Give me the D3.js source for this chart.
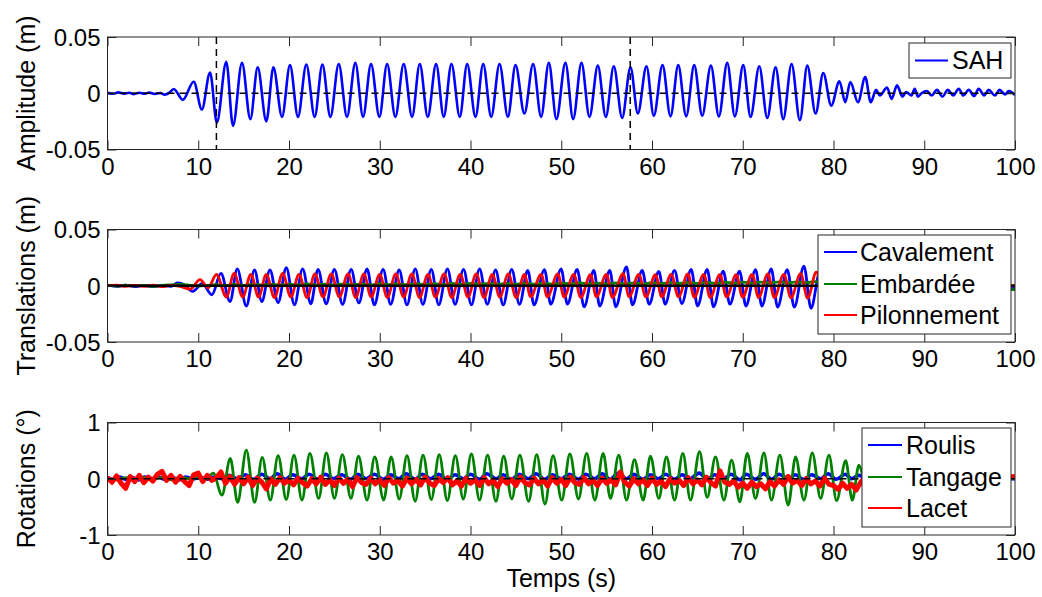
<!DOCTYPE html>
<html><head><meta charset="utf-8">
<script src="https://cdn.jsdelivr.net/npm/d3@7"></script>
<style>
body{margin:0;background:#fff}
svg{display:block}
text{font-family:"Liberation Sans",Arial,Helvetica,sans-serif;fill:#000}
</style>
</head><body>
<svg id="chart" width="1042" height="597"></svg>
<script>
// ---------------- DATA ----------------
const xTickValues = [0,10,20,30,40,50,60,70,80,90,100];
const xTickLabels = ["0","10","20","30","40","50","60","70","80","90","100"];
const transTickValues = [-0.05,0,0.05];
const transTickLabels = ["-0.05","0","0.05"];
const rotTickValues = [-1,0,1];
const rotTickLabels = ["-1","0","1"];
const markerTimes = [12,57.6];

const panelLabels = ["Amplitude (m)","Translations (m)","Rotations (°)"];
const xLabel = "Temps (s)";
const sahNames = ["SAH"];
const transNames = ["Cavalement","Embardée","Pilonnement"];
const rotNames = ["Roulis","Tangage","Lacet"];

// SAH: successive extrema [t, value]
const sah = [[0,0.0005],[0.6,-0.0005],[1.2,0.0008],[1.8,-0.0003],[2.4,0.0004],[2.9,-0.0008],[3.5,0.0005],[4.1,-0.0004],[4.6,0.0006],[5.2,-0.0006],[5.8,0.0002],[6.3,-0.0012],[6.8,0.0003],[7.3,0.0038],[8.3,-0.0058],[9.5,0.0102],[10.4,-0.0145],[11.3,0.0185],[12.05,-0.026],[13.09,0.028],[13.83,-0.029],[14.82,0.027],[15.74,-0.023],[16.55,0.023],[17.5,-0.025],[18.28,0.023],[19.23,-0.021],[20.11,0.025],[20.99,-0.021],[21.91,0.0255],[22.83,-0.021],[23.68,0.0255],[24.56,-0.021],[25.48,0.026],[26.39,-0.021],[27.31,0.027],[28.16,-0.021],[29.04,0.026],[29.96,-0.021],[30.81,0.026],[31.72,-0.021],[32.64,0.026],[33.56,-0.021],[34.41,0.026],[35.29,-0.021],[36.21,0.026],[37.05,-0.021],[37.9,0.026],[38.82,-0.021],[39.63,0.026],[40.55,-0.021],[41.4,0.026],[42.28,-0.021],[43.2,0.026],[44.12,-0.021],[44.96,0.025],[45.94,-0.018],[46.9,0.026],[47.78,-0.021],[48.63,0.027],[49.47,-0.023],[50.46,0.027],[51.31,-0.023],[52.23,0.027],[53.11,-0.021],[54.03,0.0246],[54.91,-0.021],[55.79,0.024],[56.71,-0.022],[57.63,0.023],[58.44,-0.018],[59.39,0.024],[60.2,-0.02],[61.16,0.025],[62.04,-0.0206],[62.89,0.025],[63.77,-0.0206],[64.65,0.025],[65.53,-0.02],[66.49,0.0246],[67.37,-0.0206],[68.29,0.027],[69.13,-0.0206],[70.05,0.025],[70.86,-0.021],[71.82,0.024],[72.7,-0.022],[73.62,0.023],[74.46,-0.023],[75.38,0.026],[76.3,-0.024],[77.11,0.0246],[78.03,-0.018],[78.87,0.018],[79.75,-0.011],[80.65,0.0107],[81.3,-0.008],[81.85,0.010],[82.7,-0.008],[83.5,0.0145],[84.1,-0.008],[84.7,0.003],[85.1,-0.002],[85.9,0.005],[86.4,-0.005],[87.0,0.007],[87.6,-0.003],[88.0,0.001],[88.6,-0.002],[88.95,0.004],[89.3,-0.003],[89.7,0.0],[90.3,0.002],[90.8,-0.002],[91.4,0.003],[92.0,-0.003],[92.6,0.003],[93.2,-0.002],[93.8,0.004],[94.3,-0.002],[94.9,0.003],[95.5,-0.0025],[96.0,0.004],[96.6,-0.002],[97.1,0.003],[97.8,-0.002],[98.3,0.003],[98.9,-0.001],[99.3,0.002],[100,-0.0015]];

// Cavalement (surge) extrema
const cavalement = [[0,0.0005],[1,-0.0005],[2,0.0005],[3,-0.0008],[4,0.0003],[5,-0.0008],[6,0.0002],[7,-0.0005],[7.7,0.0025],[8.3,0.0015],[9.4,-0.005],[10.45,0.002],[11.5,-0.008],[12.5,0.011],[13.5,-0.014],[14.3,0.015],[15.3,-0.018],[16.2,0.014],[17.0,-0.014],[17.9,0.014],[18.8,-0.015],[19.7,0.016],[20.6,-0.017],[21.5,0.015],[22.4,-0.016],[23.2,0.0145],[24.1,-0.016],[25.0,0.0145],[25.9,-0.0165],[26.85,0.0145],[27.7,-0.0153],[28.6,0.015],[29.4,-0.017],[30.37,0.0145],[31.2,-0.0165],[32.14,0.014],[33.0,-0.017],[33.91,0.015],[34.75,-0.0165],[35.68,0.0145],[36.5,-0.017],[37.46,0.015],[38.3,-0.0165],[39.23,0.0145],[40.1,-0.017],[41.0,0.015],[41.85,-0.0165],[42.77,0.014],[43.6,-0.017],[44.54,0.0145],[45.4,-0.0165],[46.31,0.0137],[47.0,-0.017],[48.15,0.0143],[48.84,-0.0164],[49.99,0.015],[50.68,-0.0164],[51.75,0.0145],[52.52,-0.0187],[53.59,0.0137],[54.24,-0.018],[55.35,0.0137],[56.0,-0.0187],[57.19,0.0167],[57.85,-0.017],[58.92,0.0137],[59.69,-0.0164],[60.75,0.0128],[61.45,-0.0164],[62.48,0.0137],[63.29,-0.0158],[64.32,0.0145],[65.02,-0.018],[66.08,0.0145],[66.78,-0.0187],[67.85,0.013],[68.58,-0.0164],[69.65,0.013],[70.35,-0.018],[71.41,0.0143],[72.11,-0.018],[73.14,0.015],[73.84,-0.019],[74.9,0.0143],[75.68,-0.019],[76.74,0.0175],[77.52,-0.02],[78.5,0.012],[79.4,-0.011],[80.3,0.007],[81.2,-0.006],[82.1,0.003],[83,-0.003],[85,0.001],[90,-0.001],[95,-0.0015],[100,-0.0016]];

// Embardée (sway), one value per second from t = 0
const embardee = [0.0003,-0.0004,0.0005,-0.0002,0.0004,-0.0006,0.0003,0.0008,0.0012,0.0006,
-0.0002,0.0004,0.001,0.0002,0.0012,0.0004,0.0013,0.0005,0.0014,0.0006,
0.0015,0.0007,0.0016,0.0008,0.0015,0.0007,0.0017,0.0009,0.0016,0.0008,
0.0018,0.001,0.0017,0.0009,0.0019,0.0011,0.0018,0.001,0.002,0.0012,
0.0021,0.0013,0.0022,0.0014,0.0021,0.0013,0.0023,0.0015,0.0022,0.0014,
0.0024,0.0016,0.0025,0.0017,0.0024,0.0016,0.0026,0.0018,0.0025,0.0017,
0.0027,0.0019,0.0028,0.002,0.0029,0.0021,0.003,0.0022,0.0031,0.0023,
0.0032,0.0024,0.0033,0.0025,0.0034,0.0026,0.0035,0.0027,0.0036,0.002,
0.001,0.0,-0.001,-0.0015,-0.002,-0.002,-0.0025,-0.0025,-0.003,-0.003,
-0.003,-0.0032,-0.0033,-0.0033,-0.0034,-0.0034,-0.0035,-0.0035,-0.0035,-0.0035,
-0.0035];

// Pilonnement (heave) extrema
const pilonnement = [[0,0],[1,0.0005],[2,-0.0005],[3,0.0003],[4,-0.0005],[5,0.0005],[6,-0.0008],[7,0.0003],[8,-0.0005],[9.1,-0.003],[10.2,0.0055],[11.1,-0.0018],[12.0,0.01],[13.1,-0.01],[13.95,0.011],[14.9,-0.01],[15.8,0.01],[16.65,-0.01],[17.5,0.01],[18.4,-0.0105],[19.3,0.011],[20.2,-0.01],[21.1,0.01],[22.0,-0.0105],[22.85,0.0105],[23.75,-0.01],[24.65,0.0105],[25.55,-0.01],[26.5,0.0105],[27.35,-0.0105],[28.25,0.0105],[29.05,-0.01],[30.0,0.01],[30.83,-0.0105],[31.77,0.0105],[32.63,-0.01],[33.54,0.0105],[34.38,-0.0105],[35.31,0.01],[36.13,-0.01],[37.09,0.0105],[37.93,-0.0105],[38.86,0.01],[39.73,-0.01],[40.63,0.0105],[41.48,-0.0105],[42.4,0.01],[43.23,-0.01],[44.17,0.0105],[45.03,-0.0105],[45.94,0.01],[46.63,-0.0099],[47.78,0.0102],[48.47,-0.0099],[49.62,0.0105],[50.31,-0.01],[51.38,0.0102],[52.15,-0.0105],[53.22,0.0098],[53.87,-0.0099],[54.98,0.0102],[55.63,-0.0105],[56.82,0.0108],[57.48,-0.0099],[58.55,0.0102],[59.32,-0.01],[60.38,0.0098],[61.08,-0.0099],[62.11,0.0102],[62.92,-0.0099],[63.95,0.0105],[64.65,-0.0102],[65.71,0.0102],[66.41,-0.0105],[67.48,0.0098],[68.21,-0.0099],[69.28,0.0098],[69.98,-0.0102],[71.04,0.0102],[71.74,-0.0105],[72.77,0.0105],[73.47,-0.0105],[74.53,0.0102],[75.31,-0.0108],[76.37,0.0108],[77.15,-0.011],[78.1,0.012],[79.0,-0.008],[80,0.005],[81,-0.003],[82,0.001],[85,0],[90,0.0005],[100,0]];

// Roulis (roll) extrema
const roulis = [[0,0.02],[0.6,-0.02],[1.3,0.03],[2,-0.01],[2.7,0.02],[3.4,-0.02],[4.1,0.03],[4.9,0.0],[5.6,0.03],[6.3,-0.01],[7.1,0.02],[7.9,-0.02],[8.6,0.03],[9.4,0.0],[10.2,0.02],[11.0,-0.01],[11.8,0.03],[12.6,0.0],[13.4,0.06],[14.3,0.0],[15.2,0.07],[16.1,-0.01],[17.0,0.08],[17.9,0.0],[18.7,0.09],[19.6,-0.01],[20.4,0.07],[21.4,0.0],[22.2,0.08],[23.2,-0.01],[24.0,0.08],[24.9,0.0],[25.8,0.07],[26.8,-0.01],[27.6,0.08],[28.5,0.0],[29.4,0.08],[30.4,-0.01],[31.2,0.07],[32.1,0.0],[32.9,0.09],[33.9,-0.01],[34.7,0.08],[35.6,0.0],[36.5,0.08],[37.4,-0.01],[38.3,0.07],[39.2,0.0],[40.0,0.08],[41.0,-0.01],[41.8,0.09],[42.8,0.0],[43.6,0.07],[44.5,-0.01],[45.4,0.08],[46.4,0.0],[47.2,0.09],[48.2,-0.01],[49.0,0.07],[50.0,0.0],[50.9,0.08],[51.9,-0.01],[52.7,0.08],[53.7,0.0],[54.5,0.09],[55.4,-0.01],[56.3,0.1],[57.2,0.0],[58.0,0.08],[59.0,-0.01],[59.8,0.07],[60.7,0.0],[61.5,0.08],[62.5,-0.01],[63.3,0.07],[64.2,0.0],[65.2,0.1],[66.1,-0.01],[66.9,0.07],[67.9,0.0],[68.7,0.08],[69.7,-0.02],[70.4,0.08],[71.4,-0.01],[72.3,0.09],[73.2,-0.01],[74.0,0.08],[75.0,0.0],[75.8,0.07],[76.7,-0.01],[77.6,0.07],[78.6,0.0],[79.4,0.09],[80.3,-0.01],[81.3,0.08],[82.0,0.0],[82.8,0.06],[84,0.0],[90,0.01],[100,0.0]];

// Tangage (pitch) extrema
const tangage = [[0,0.01],[1,-0.02],[2,0.02],[3,-0.01],[4,0.03],[5,0.0],[6,0.02],[7,-0.02],[8,0.03],[9,0.0],[10,0.02],[10.8,-0.02],[11.65,0.1],[12.61,-0.29],[13.53,0.36],[14.34,-0.42],[15.3,0.51],[16.21,-0.42],[17.05,0.38],[17.94,-0.38],[18.8,0.41],[19.7,-0.37],[20.55,0.42],[21.43,-0.38],[22.3,0.45],[23.27,-0.35],[24.12,0.46],[25.0,-0.35],[25.88,0.43],[26.83,-0.35],[27.66,0.4],[28.6,-0.38],[29.45,0.39],[30.43,-0.38],[31.25,0.39],[32.15,-0.36],[33.0,0.41],[33.9,-0.4],[34.77,0.42],[35.68,-0.37],[36.55,0.43],[37.45,-0.39],[38.33,0.41],[39.2,-0.36],[40.1,0.44],[41.0,-0.38],[41.88,0.42],[42.8,-0.4],[43.66,0.4],[44.55,-0.36],[45.44,0.42],[46.4,-0.4],[47.3,0.43],[48.2,-0.45],[49.1,0.41],[50.05,-0.38],[50.95,0.44],[51.9,-0.36],[52.8,0.45],[53.7,-0.38],[54.62,0.45],[55.42,-0.35],[56.34,0.42],[57.19,-0.38],[58.07,0.34],[59.03,-0.38],[59.83,0.4],[60.75,-0.35],[61.6,0.39],[62.48,-0.38],[63.4,0.45],[64.24,-0.38],[65.24,0.48],[66.08,-0.33],[67.0,0.39],[67.92,-0.38],[68.77,0.33],[69.68,-0.41],[70.49,0.45],[71.41,-0.35],[72.33,0.46],[73.17,-0.38],[74.09,0.42],[75.01,-0.47],[75.82,0.39],[76.74,-0.38],[77.66,0.46],[78.58,-0.35],[79.5,0.42],[80.34,-0.39],[81.34,0.32],[82.07,-0.38],[82.8,0.24],[83.6,-0.1],[85,0.03],[90,-0.01],[95,0.02],[100,0.0]];

// Lacet (yaw), one value every 0.5 s from t = 0
const lacet = [0.02,-0.06,0.05,-0.08,-0.17,0.04,-0.05,0.06,-0.07,0.03,
-0.04,0.08,0.13,-0.03,0.06,-0.06,0.04,-0.05,-0.12,0.07,
0.1,-0.05,0.06,-0.03,0.02,0.12,-0.08,0.04,-0.1,0.02,
-0.09,0.03,-0.12,0.01,-0.06,-0.18,0.0,-0.1,0.02,-0.08,
-0.02,-0.11,0.01,-0.07,-0.13,0.0,-0.09,0.03,-0.1,-0.02,
-0.12,0.01,-0.08,-0.01,-0.14,0.02,-0.07,-0.1,0.01,-0.09,
-0.02,-0.12,0.02,-0.08,-0.03,-0.13,0.01,-0.09,-0.01,-0.11,
0.03,-0.08,-0.12,0.0,-0.07,0.02,-0.11,-0.04,-0.13,0.01,
-0.08,-0.02,-0.12,0.02,-0.09,-0.03,-0.14,0.0,-0.08,-0.01,
-0.12,0.03,-0.07,-0.11,0.01,-0.09,-0.02,-0.13,0.02,-0.08,
-0.01,-0.12,0.03,-0.07,-0.1,0.02,-0.09,-0.03,-0.12,0.01,
-0.08,-0.02,-0.11,0.12,-0.06,-0.13,0.0,-0.09,-0.02,-0.12,
0.01,-0.1,-0.04,-0.14,0.0,-0.08,-0.03,-0.12,0.02,-0.09,
-0.02,-0.11,0.03,-0.07,-0.13,0.14,-0.06,-0.1,-0.04,-0.15,
-0.08,-0.17,-0.06,-0.14,-0.09,-0.18,-0.05,-0.13,-0.02,-0.1,
0.04,-0.08,-0.03,-0.12,0.0,-0.09,-0.04,-0.13,0.01,-0.1,
-0.12,-0.19,-0.08,-0.17,-0.1,-0.2,-0.06,0.02,-0.03,0.01,
-0.02,0.02,-0.01,0.03,-0.02,0.01,0.0,0.02,-0.01,0.02,
0.0,0.03,-0.01,0.02,0.01,0.03,-0.01,0.02,0.0,0.03,
0.01,0.03,0.0,0.04,0.01,0.03,0.02,0.05,0.01,0.03,
0.04];

// ---------------- LAYOUT ----------------
const L = 107.5, R = 1015, PH = 112.5;
const tops = [37, 229.5, 422.5];
const blue = "#0000ff", green = "#008000", red = "#ff0000";
const axisColor = "#262626";

const svg = d3.select("#chart");
const x = d3.scaleLinear().domain([0,100]).range([L,R]);

function panel(i, domain) {
  const top = tops[i], bottom = top + PH;
  const y = d3.scaleLinear().domain(domain).range([bottom, top]);
  const g = svg.append("g");
  const clipId = "clip" + i;
  svg.append("clipPath").attr("id", clipId).append("rect")
    .attr("x", L).attr("y", top).attr("width", R - L).attr("height", PH);
  const plot = g.append("g").attr("clip-path", `url(#${clipId})`);
  return {top, bottom, y, g, plot};
}

function drawAxes(p, yTickVals, yTickLabs) {
  const {g, top, bottom, y} = p;
  const ax = g.append("g").attr("transform", `translate(0,${bottom})`)
    .call(d3.axisBottom(x).tickValues(xTickValues).tickFormat((d, i) => xTickLabels[i]).tickSize(-9).tickSizeOuter(0));
  ax.selectAll("text").attr("y", 17).attr("dy", "0.35em");
  g.append("g").attr("transform", `translate(0,${top})`)
    .call(d3.axisTop(x).tickValues(xTickValues).tickFormat("").tickSize(-9).tickSizeOuter(0));
  const ay = g.append("g").attr("transform", `translate(${L},0)`)
    .call(d3.axisLeft(y).tickValues(yTickVals).tickFormat((d,i)=>yTickLabs[i]).tickSize(-9).tickSizeOuter(0));
  ay.selectAll("text").attr("x", -7).attr("dy", "0.35em");
  g.append("g").attr("transform", `translate(${R},0)`)
    .call(d3.axisRight(y).tickValues(yTickVals).tickFormat("").tickSize(-9).tickSizeOuter(0));
  g.selectAll(".domain").remove();
  g.selectAll(".tick line").attr("stroke", axisColor).attr("stroke-width", 1);
  g.selectAll(".tick text").style("font-size", "24px").attr("fill", "#000")
    .style("font-family", '"Liberation Sans", Arial, sans-serif');
  g.append("rect").attr("x", L).attr("y", top).attr("width", R - L).attr("height", PH)
    .attr("fill", "none").attr("stroke", axisColor).attr("stroke-width", 1);
}

function pairLine(p, data, color, width, curve) {
  const line = d3.line().x(d => x(d[0])).y(d => p.y(d[1])).curve(curve || d3.curveMonotoneX);
  p.plot.append("path").datum(data).attr("d", line)
    .attr("fill", "none").attr("stroke", color).attr("stroke-width", width)
    .attr("stroke-linejoin", "round");
}
function stepLine(p, values, step, color, width, curve) {
  const line = d3.line().x((d, i) => x(i * step)).y(d => p.y(d)).curve(curve || d3.curveLinear);
  p.plot.append("path").datum(values).attr("d", line)
    .attr("fill", "none").attr("stroke", color).attr("stroke-width", width)
    .attr("stroke-linejoin", "round");
}
function zeroLine(p, dashed, width) {
  const l = p.plot.append("line").attr("x1", x(0)).attr("x2", x(100))
    .attr("y1", p.y(0)).attr("y2", p.y(0))
    .attr("stroke", "#000").attr("stroke-width", width);
  if (dashed) l.attr("stroke-dasharray", "7,5");
}
function legend(box, names, colors, rowYs, lineX0, lineX1, textX) {
  const lg = svg.append("g");
  lg.append("rect").attr("x", box[0]).attr("y", box[1]).attr("width", box[2]).attr("height", box[3])
    .attr("fill", "#fff").attr("stroke", axisColor).attr("stroke-width", 1);
  names.forEach((n, i) => {
    lg.append("line").attr("x1", lineX0).attr("x2", lineX1).attr("y1", rowYs[i]).attr("y2", rowYs[i])
      .attr("stroke", colors[i]).attr("stroke-width", 1.8);
    lg.append("text").attr("x", textX).attr("y", rowYs[i]).attr("dy", "0.35em")
      .style("font-size", "25px").text(n);
  });
}
function yLabel(p, txt) {
  svg.append("text").attr("transform", `translate(26,${(p.top + p.bottom) / 2}) rotate(-90)`)
    .attr("text-anchor", "middle").attr("dy", "0.35em").style("font-size", "25px").text(txt);
}

// ---------- Panel 1 : SAH ----------
const p1 = panel(0, [-0.05, 0.05]);
pairLine(p1, sah, blue, 2.6);
zeroLine(p1, true, 1.5);
markerTimes.forEach(t => {
  p1.plot.append("line").attr("x1", x(t)).attr("x2", x(t)).attr("y1", p1.top).attr("y2", p1.bottom)
    .attr("stroke", "#000").attr("stroke-width", 1.5).attr("stroke-dasharray", "7,5");
});
drawAxes(p1, transTickValues, transTickLabels);
legend([909, 43, 102, 35], sahNames, [blue], [60.5], 915, 948, 952);
yLabel(p1, panelLabels[0]);

// ---------- Panel 2 : Translations ----------
const p2 = panel(1, [-0.05, 0.05]);
pairLine(p2, cavalement, blue, 2.8);
stepLine(p2, embardee, 1, green, 2.8, d3.curveMonotoneX);
pairLine(p2, pilonnement, red, 2.8);
zeroLine(p2, false, 2.4);
drawAxes(p2, transTickValues, transTickLabels);
legend([818, 235, 193, 99], transNames, [blue, green, red], [252, 284, 315], 824, 857, 860);
yLabel(p2, panelLabels[1]);

// ---------- Panel 3 : Rotations ----------
const p3 = panel(2, [-1, 1]);
pairLine(p3, roulis, blue, 3.6);
pairLine(p3, tangage, green, 2.8);
stepLine(p3, lacet, 0.5, red, 5);
zeroLine(p3, true, 1.6);
drawAxes(p3, rotTickValues, rotTickLabels);
legend([862, 428, 149, 99], rotNames, [blue, green, red], [445, 477, 508], 868, 902, 906);
yLabel(p3, panelLabels[2]);

svg.append("text").attr("x", (L + R) / 2).attr("y", 578).attr("dy", "0.35em")
  .attr("text-anchor", "middle").style("font-size", "25px").text(xLabel);
</script>
</body></html>
